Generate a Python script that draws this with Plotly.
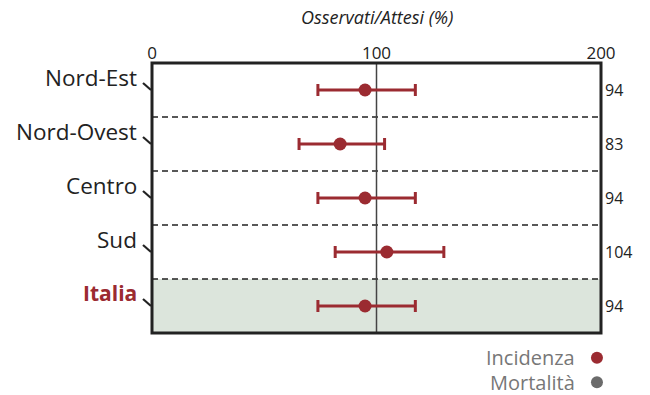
import plotly.graph_objects as go

# ---- data ----
regions = ["Nord-Est", "Nord-Ovest", "Centro", "Sud", "Italia"]
oss_att = [94.9, 83.8, 94.9, 104.6, 94.9]          # observed/expected (%)
ci_low = [73.9, 65.5, 73.9, 81.6, 73.9]
ci_high = [117.3, 103.6, 117.3, 130.0, 117.3]
value_labels = ["94", "83", "94", "104", "94"]
x_ticks = [0, 100, 200]
legend_items = ["Incidenza", "Mortalità"]
legend_colors = ["#9b2b31", "#6b6b6b"]

RED = "#9b2b31"
FONT = "Open Sans"

idx = list(range(len(regions)))
err_plus = [h - v for h, v in zip(ci_high, oss_att)]
err_minus = [v - l for l, v in zip(ci_low, oss_att)]

fig = go.Figure()
fig.add_trace(go.Scatter(
    x=oss_att, y=idx, mode="markers",
    marker=dict(color=RED, size=13),
    error_x=dict(type="data", symmetric=False, array=err_plus, arrayminus=err_minus,
                 color=RED, thickness=3, width=6),
    showlegend=False, hoverinfo="x",
))

shapes = []
# shaded Italia row
shapes.append(dict(type="rect", xref="x domain", yref="y", x0=0, x1=1,
                   y0=len(regions) - 1.5, y1=len(regions) - 0.5,
                   fillcolor="#dce5dc", line=dict(width=0), layer="below"))
# dashed separators
for i in range(len(regions) - 1):
    shapes.append(dict(type="line", xref="x domain", yref="y", x0=0, x1=1,
                       y0=i + 0.5, y1=i + 0.5,
                       line=dict(color="#222222", width=1.5, dash="6px,4px"), layer="below"))
# reference line at 100
shapes.append(dict(type="line", xref="x", yref="y domain", x0=100, x1=100, y0=0, y1=1,
                   line=dict(color="#444444", width=1.5), layer="below"))
# frame
shapes.append(dict(type="rect", xref="x domain", yref="y domain", x0=0, x1=1, y0=0, y1=1,
                   line=dict(color="#222222", width=3), layer="above"))
# slanted ticks on the left
for i in idx:
    shapes.append(dict(type="line", xref="paper", yref="y",
                       xsizemode="pixel", ysizemode="pixel",
                       xanchor=0, yanchor=i, x0=-9, x1=-1, y0=7, y1=0,
                       line=dict(color="#222222", width=2.2)))

annotations = []
for i, r in enumerate(regions):
    is_it = r == "Italia"
    annotations.append(dict(
        xref="paper", yref="y", x=0, y=i, xanchor="right", yanchor="middle",
        xshift=-13, yshift=13, showarrow=False,
        text=f"<b>{r}</b>" if is_it else r,
        font=dict(family=FONT, size=21 if is_it else 22.5,
                  color=RED if is_it else "#222222"),
    ))
    annotations.append(dict(
        xref="paper", yref="y", x=1, y=i, xanchor="left", yanchor="middle",
        xshift=2, showarrow=False, text=value_labels[i],
        font=dict(family=FONT, size=16, color="#222222"),
    ))
# axis title
annotations.append(dict(xref="x", yref="paper", x=100, y=1.17, xanchor="center", yanchor="middle",
                        showarrow=False, text="<i>Osservati/Attesi (%)</i>",
                        font=dict(family=FONT, size=18, color="#222222")))
# legend
leg_y = [-0.0913, -0.182]
for name, col, ly in zip(legend_items, legend_colors, leg_y):
    annotations.append(dict(xref="paper", yref="paper", x=0.946, y=ly, xanchor="right",
                            yanchor="middle", showarrow=False, text=name,
                            font=dict(family=FONT, size=20, color="#777777")))
    shapes.append(dict(type="circle", xref="paper", yref="paper",
                       xsizemode="pixel", ysizemode="pixel", xanchor=0.991, yanchor=ly,
                       x0=-6, x1=6, y0=-6, y1=6, fillcolor=col, line=dict(width=0)))

fig.update_layout(
    width=650, height=395,
    margin=dict(l=152, r=49, t=63, b=62),
    paper_bgcolor="white", plot_bgcolor="white",
    shapes=shapes, annotations=annotations,
    xaxis=dict(range=[0, 200], side="top", tickvals=x_ticks, ticktext=[str(t) for t in x_ticks],
               showgrid=False, zeroline=False, showline=False, ticks="",
               tickfont=dict(family=FONT, size=17, color="#222222")),
    yaxis=dict(range=[len(regions) - 0.5, -0.5], showgrid=False, zeroline=False,
               showline=False, showticklabels=False, ticks=""),
)

fig.write_html("out.html", config={"displayModeBar": False},
               post_script="document.body.style.margin='0px';")
